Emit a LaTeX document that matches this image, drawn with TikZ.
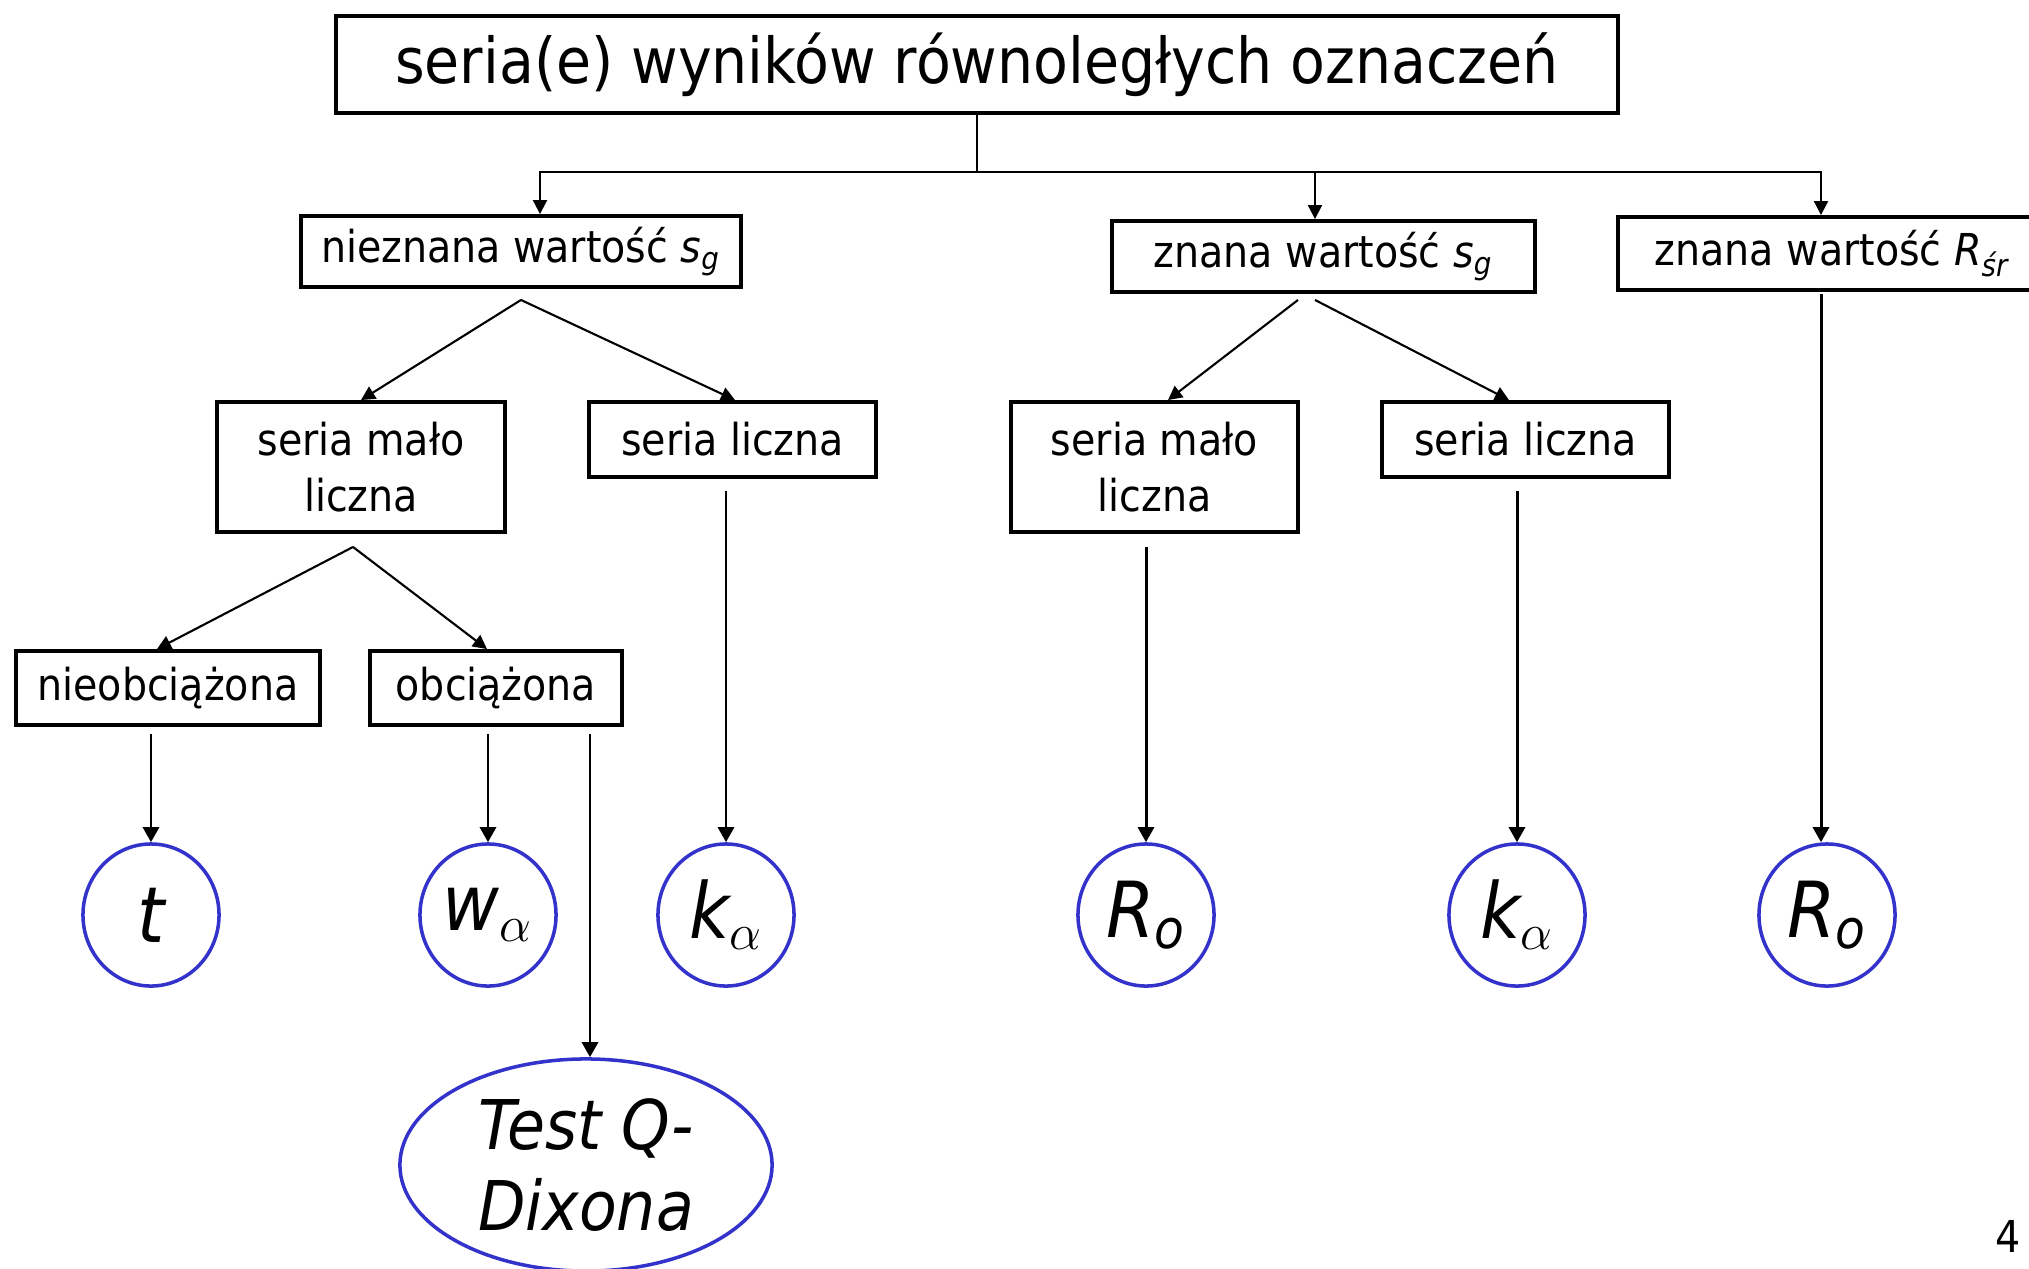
\documentclass[tikz,border=0pt]{standalone}
\usepackage{amsmath}
\usepackage{fontspec}
\setmainfont{DejaVu Sans Condensed}
\usetikzlibrary{arrows.meta,calc,shapes.geometric}
\definecolor{ringblue}{RGB}{51,51,204}
\tikzset{
  box/.style={draw,line width=1.1pt,inner sep=0pt,align=center,font=\fontsize{12.5pt}{16pt}\selectfont},
  res/.style={ellipse,draw=ringblue,line width=1pt,inner sep=0pt,minimum width=1.36cm,minimum height=1.42cm,font=\fontsize{22pt}{26pt}\selectfont\itshape},
  arr/.style={-{Triangle[width=0.16cm,length=0.15cm]},line width=0.85pt},
  thinarr/.style={-{Triangle[width=0.14cm,length=0.14cm]},line width=0.6pt},
}

\begin{document}
\begin{tikzpicture}[x=0.01cm,y=-0.01cm]
\useasboundingbox (0,0) rectangle (2029,1269);
%draw the boxes
\node[box,minimum width=12.82cm,minimum height=0.97cm,font=\fontsize{18pt}{22pt}\selectfont] (title) at (977,64.5) {seria(e) wyników równoległych oznaczeń};
\node[box,minimum width=4.4cm,minimum height=0.71cm] (ns) at (521,251.5) {nieznana wartość $\textit{s}_{\textit{g}}$};
\node[box,minimum width=4.23cm,minimum height=0.71cm] (zs) at (1323.5,256.5) {znana wartość $\textit{s}_{\textit{g}}$};
\node[box,minimum width=4.28cm,minimum height=0.73cm] (zr) at (1832,253.5) {znana wartość $\textit{R}_{\textit{śr}}$};
\node[box,minimum width=2.88cm,minimum height=1.3cm] (ml) at (361,467) {seria mało\\liczna};
\node[box,minimum width=2.87cm,minimum height=0.75cm] (ll) at (732.5,439.5) {seria liczna};
\node[box,minimum width=2.87cm,minimum height=1.3cm] (mr) at (1154.5,467) {seria mało\\liczna};
\node[box,minimum width=2.87cm,minimum height=0.75cm] (lr) at (1525.5,439.5) {seria liczna};
\node[box,minimum width=3.04cm,minimum height=0.74cm] (nie) at (168,688) {nieobciążona};
\node[box,minimum width=2.52cm,minimum height=0.74cm] (obc) at (496,688) {obciążona};
%draw the circles
\node[res] (t) at (151,915) {t};
\node[res] (w) at (488,915) {$\textit{w}_{\alpha}$};
\node[res] (k1) at (726,915) {$\textit{k}_{\alpha}$};
\node[res] (r1) at (1146,915) {$\textit{R}_{\textit{o}}$};
\node[res] (k2) at (1517,915) {$\textit{k}_{\alpha}$};
\node[res] (r2) at (1827,915) {$\textit{R}_{\textit{o}}$};
\node[res,minimum width=3.72cm,minimum height=2.12cm,font=\fontsize{19.5pt}{23pt}\selectfont\itshape,align=center] (dix) at (586,1165) {Test Q-\\Dixona};
\node[anchor=east,inner sep=1pt,font=\fontsize{12.5pt}{16pt}\selectfont] (page) at (2025,1236) {4};
% draw the top split
\coordinate (split) at (977,172);
\draw[line width=0.6pt] (title.south) -- (split);
\draw[thinarr] (split) -| ($(ns.north)+(19,0)$);
\draw[thinarr] (split) -| ($(zs.north)+(-8.5,0)$);
\draw[thinarr] (split) -| ($(zr.north)+(-11,0)$);
% draw the branches
\draw[thinarr] ($(ns.south)+(0,11)$) -- (ml.north);
\draw[thinarr] ($(ns.south)+(0,11)$) -- ($(ll.north)+(2.5,0)$);
\draw[thinarr] ($(zs.south)+(-25.5,6)$) -- ($(mr.north)+(13.5,0)$);
\draw[thinarr] ($(zs.south)+(-8.5,6)$) -- ($(lr.north)+(-16.5,0)$);
\draw[thinarr] ($(ml.south)+(-8,13)$) -- ($(nie.north)+(-11,0)$);
\draw[thinarr] ($(ml.south)+(-8,13)$) -- ($(obc.north)+(-9,0)$);
% draw the arrows down to the tests
\draw[arr,shorten <=0.07cm] (t.north |- nie.south) -- (t.north);
\draw[arr,shorten <=0.07cm] (w.north |- obc.south) -- (w.north);
\draw[arr] ($(obc.south)+(94,7)$) -- ($(dix.north)+(4,0)$);
\draw[arr,shorten <=0.12cm] (k1.north |- ll.south) -- (k1.north);
\draw[arr,shorten <=0.13cm] (r1.north |- mr.south) -- (r1.north);
\draw[arr,shorten <=0.12cm] (k2.north |- lr.south) -- (k2.north);
\draw[arr] ($(zr.south)+(-11,2)$) -- ($(r2.north)+(-6,0)$);
\end{tikzpicture}
\end{document}
